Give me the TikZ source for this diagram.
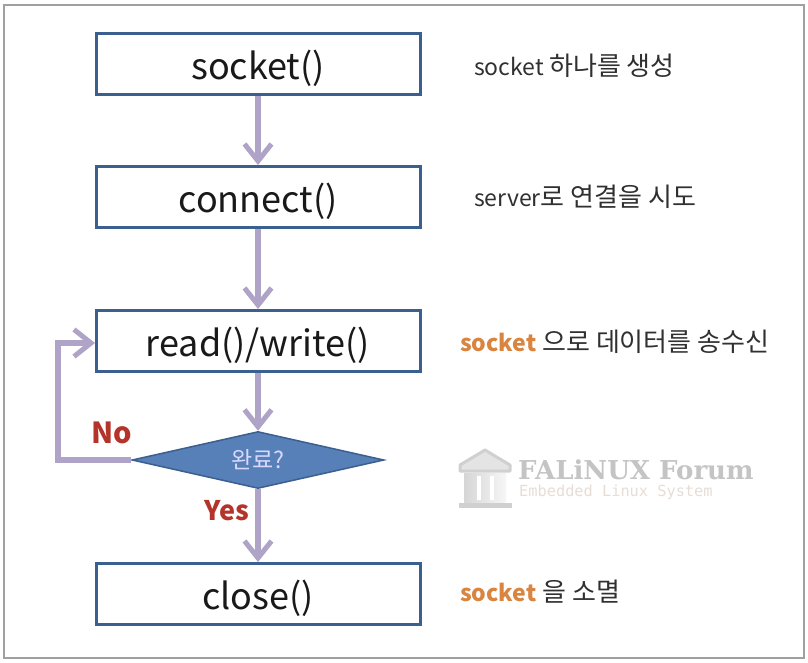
\documentclass[tikz,border=0pt]{standalone}
\usepackage{fontspec}
\setmainfont{Noto Sans CJK KR}
\newfontfamily\logoserif{DejaVu Serif}[BoldFont={DejaVu Serif Bold}]
\newfontfamily\logomono{DejaVu Sans Mono}
\usetikzlibrary{shapes.geometric,arrows.meta}
\definecolor{boxblue}{HTML}{3B5F8F}
\definecolor{fillblue}{HTML}{5880B8}
\definecolor{arrowpurple}{HTML}{AFA3C8}
\definecolor{labelred}{HTML}{B5342A}
\definecolor{noteorange}{HTML}{D9843F}
\definecolor{notetext}{HTML}{303030}
\definecolor{framegray}{HTML}{A0A0A0}
\definecolor{logogray}{HTML}{C4C4C4}
\definecolor{logotan}{HTML}{E8DDD5}
\newcommand{\kr}[1]{{\fontsize{26}{28}\selectfont #1}}
\newcommand{\boxtext}[1]{\raisebox{-15pt}[0pt][0pt]{#1}}
\tikzset{
  x=1pt,y=-1pt,
  flowbox/.style={draw=boxblue,line width=3pt,fill=white,minimum width=324pt,minimum height=61pt,inner sep=0pt,font=\fontsize{36}{38}\selectfont,text=black!90},
  decision/.style={diamond,aspect=4.4,draw=boxblue,line width=1.5pt,fill=fillblue,text=white!85!blue,inner sep=0pt,minimum width=252pt,minimum height=57pt,font=\fontsize{23}{25}\selectfont},
  flowarrow/.style={draw=arrowpurple,line width=5.5pt,-{Straight Barb[length=17pt,width=27pt,line width=5pt]},line join=miter},
  note/.style={anchor=west,inner sep=0pt,text=notetext,font=\fontsize{23}{25}\selectfont},
  decisionlabel/.style={inner sep=0pt,text=labelred,font=\bfseries\fontsize{27}{29}\selectfont},
}
\begin{document}
\begin{tikzpicture}
\useasboundingbox (0,0) rectangle (808,662);
\fill[white] (0,0) rectangle (808,662);
\draw[framegray,line width=2pt] (4,5) rectangle (804,658);
\node[flowbox] (socket) at (258,64) {\boxtext{socket()}};
\node[flowbox] (connect) at (258,197) {\boxtext{connect()}};
\node[flowbox] (rw) at (258,341) {\boxtext{read()/write()}};
\node[decision] (done) at (258,460) {완료?};
\node[flowbox] (close) at (258,594) {\boxtext{close()}};
\draw[flowarrow] (socket.south) -- (connect.north);
\draw[flowarrow] (connect.south) -- (rw.north);
\draw[flowarrow] (rw.south) -- (done.north);
\draw[flowarrow] (done.south) -- (close.north);
\coordinate (loopa) at (58,460);
\coordinate (loopb) at (58,343);
\coordinate (rwin) at (95,343);
\draw[flowarrow] (done.west) -- (loopa) -- (loopb) -- (rwin);
\node[decisionlabel,font=\bfseries\fontsize{29}{31}\selectfont] (no) at (112,433) {No};
\node[decisionlabel] (yes) at (227,511) {Yes};
\node[note] (n1) at (474,66) {socket \kr{하나를 생성}};
\node[note] (n2) at (474,197) {server\kr{로 연결을 시도}};
\node[note] (n3) at (460,342) {\textcolor{noteorange}{\bfseries socket}\hspace{6pt}\kr{으로 데이터를 송수신}};
\node[note] (n4) at (460,592) {\textcolor{noteorange}{\bfseries socket}\hspace{6pt}\kr{을 소멸}};
% logo
\fill[logogray!45,draw=logogray!80,line width=3pt,line join=round] (485,450) -- (510,465) -- (510,471) -- (460,471) -- (460,465) -- cycle;
\shade[left color=logogray!70,right color=logogray!15] (464,473) rectangle (506,503);
\fill[white] (477,476) rectangle (481,500);
\fill[white] (490,476) rectangle (494,500);
\fill[logogray!80] (459,503) rectangle (512,508);
\node[anchor=west,inner sep=0pt,text=logogray,font=\logoserif\bfseries\fontsize{26}{28}\selectfont] (logo) at (518,470) {FALiNUX Forum};
\node[anchor=west,inner sep=0pt,text=logotan,font=\logomono\fontsize{15.3}{17}\selectfont] (logosub) at (519,492) {Embedded Linux System};
\end{tikzpicture}
\end{document}
